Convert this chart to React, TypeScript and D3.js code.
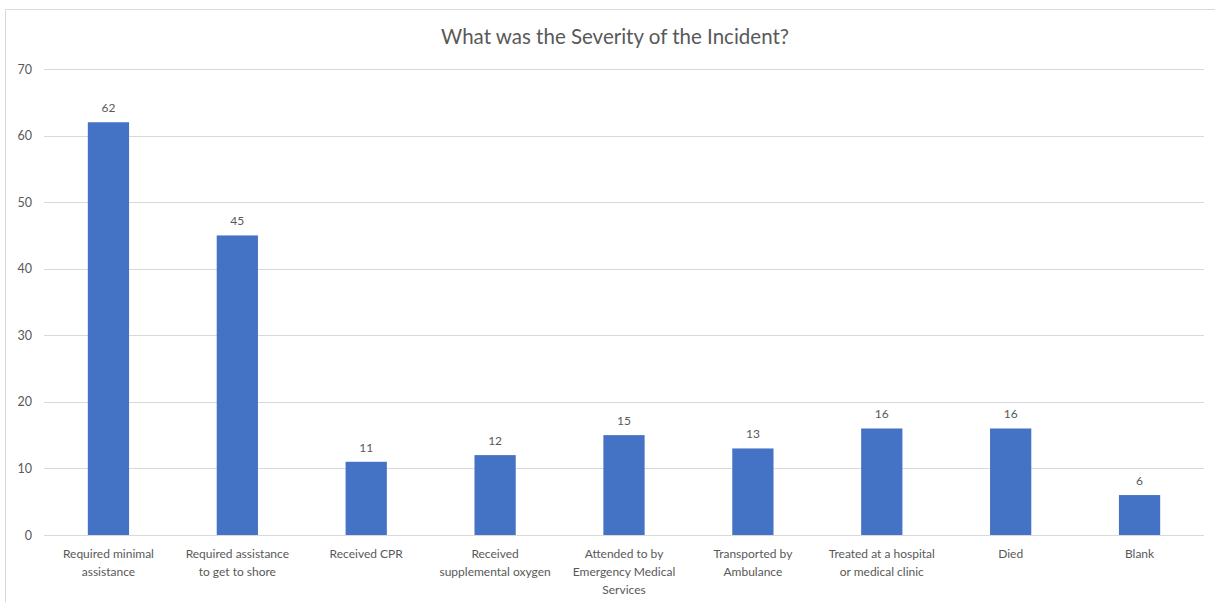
import React from "react";
import * as d3 from "d3";

// Survey responses: severity of each reported incident
const categories: string[] = [
  "Required minimal\nassistance",
  "Required assistance\nto get to shore",
  "Received CPR",
  "Received\nsupplemental oxygen",
  "Attended to by\nEmergency Medical\nServices",
  "Transported by\nAmbulance",
  "Treated at a hospital\nor medical clinic",
  "Died",
  "Blank",
];
const counts: number[] = [62, 45, 11, 12, 15, 13, 16, 16, 6];
const yTicks: number[] = [0, 10, 20, 30, 40, 50, 60, 70];
const title = "What was the Severity of the Incident?";

const W = 1215;
const H = 602;
const FONT = "Lato, 'Open Sans', sans-serif";
const TEXT = "#595959";
const GRID = "#d9d9d9";
const BAR = "#4472C4";

export default function App() {
  const x = d3
    .scaleBand<string>()
    .domain(categories)
    .range([44, 1204])
    .paddingInner(0.68)
    .paddingOuter(0.34);
  const y = d3.scaleLinear().domain([0, 70]).range([535, 69]);

  return (
    <svg
      width={W}
      height={H}
      style={{ position: "absolute", left: 0, top: 0, background: "#fff" }}
      fontFamily={FONT}
    >
      <rect x={0} y={0} width={W} height={H} fill="#fff" />
      {/* chart frame */}
      <line x1={5.5} y1={9.5} x2={W} y2={9.5} stroke={GRID} strokeWidth={1} />
      <line x1={5.5} y1={9.5} x2={5.5} y2={H} stroke={GRID} strokeWidth={1} />

      <text x={615} y={44} textAnchor="middle" fontSize={20.5} fill={TEXT}>
        {title}
      </text>

      {yTicks.map((t) => (
        <g key={t}>
          <line
            x1={44}
            x2={1204}
            y1={Math.round(y(t)) + 0.5}
            y2={Math.round(y(t)) + 0.5}
            stroke={GRID}
            strokeWidth={1}
          />
          <text x={32} y={y(t) + 4.5} textAnchor="end" fontSize={12.5} fill={TEXT}>
            {t}
          </text>
        </g>
      ))}

      {categories.map((c, i) => {
        const bx = x(c)!;
        const bw = x.bandwidth();
        const v = counts[i];
        const cx = bx + bw / 2;
        return (
          <g key={c}>
            <rect x={bx} y={y(v)} width={bw} height={y(0) - y(v)} fill={BAR} />
            <text x={cx} y={y(v) - 10} textAnchor="middle" fontSize={12} fill={TEXT}>
              {v}
            </text>
            {c.split("\n").map((line, j) => (
              <text
                key={j}
                x={cx}
                y={558 + j * 18}
                textAnchor="middle"
                fontSize={12}
                fill={TEXT}
              >
                {line}
              </text>
            ))}
          </g>
        );
      })}
    </svg>
  );
}
